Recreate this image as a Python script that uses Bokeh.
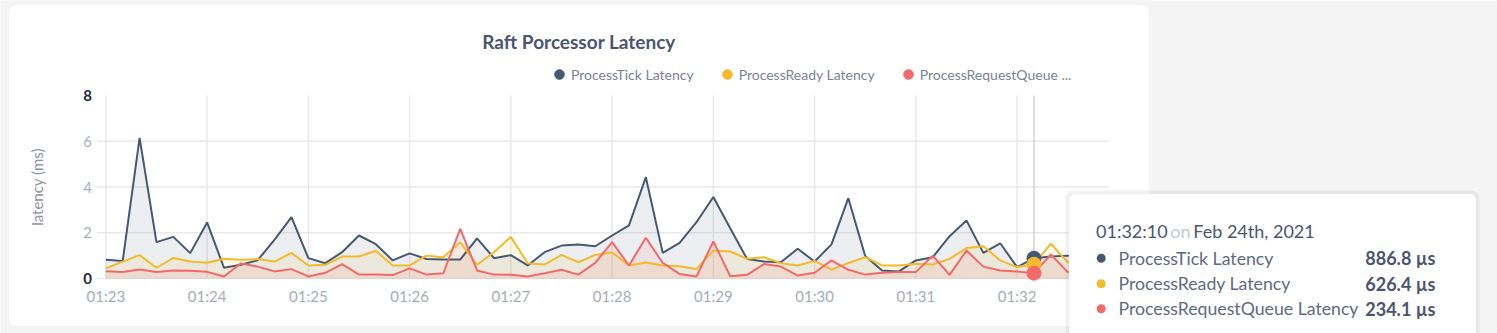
import pandas as pd
from bokeh.plotting import figure
from bokeh.models import (Range1d, FixedTicker, DatetimeAxis, LinearAxis, DatetimeTickFormatter,
                          Legend, LegendItem, Label, BoxAnnotation)
from bokeh.embed import file_html
from bokeh.resources import INLINE

# ---------------- data ----------------
chart_title = "Raft Porcessor Latency"
y_axis_title = "latency (ms)"
series_names = ["ProcessTick Latency", "ProcessReady Latency", "ProcessRequestQueue Latency"]
start_time = "2021-02-24 01:23:00"
sample_seconds = 10

process_tick = [0.82, 0.77, 6.15, 1.59, 1.82, 1.11, 2.45, 0.47, 0.60, 0.80,
                1.70, 2.68, 0.89, 0.67, 1.15, 1.88, 1.50, 0.79, 1.10, 0.85,
                0.83, 0.83, 1.75, 0.89, 1.02, 0.57, 1.15, 1.44, 1.49, 1.41,
                1.88, 2.32, 4.43, 1.12, 1.56, 2.46, 3.56, 2.20, 0.85, 0.74,
                0.71, 1.30, 0.74, 1.49, 3.51, 0.98, 0.35, 0.31, 0.79, 0.93,
                1.85, 2.54, 1.12, 1.54, 0.50, 0.8868, 0.96, 1.00, 1.00, 1.00]
process_ready = [0.45, 0.74, 1.02, 0.47, 0.90, 0.74, 0.69, 0.86, 0.82, 0.85,
                 0.74, 1.12, 0.57, 0.60, 0.96, 0.96, 1.21, 0.57, 0.57, 1.00,
                 0.93, 1.59, 0.60, 1.15, 1.82, 0.67, 0.61, 1.03, 0.71, 1.03,
                 1.15, 0.57, 0.70, 0.57, 0.54, 0.42, 1.22, 1.18, 0.86, 0.93,
                 0.67, 0.57, 0.77, 0.39, 0.68, 0.93, 0.57, 0.57, 0.64, 0.61,
                 0.86, 1.33, 1.41, 0.79, 0.50, 0.6264, 1.52, 0.71, 0.75, 0.80]
process_request_queue = [0.32, 0.28, 0.39, 0.28, 0.35, 0.34, 0.29, 0.09, 0.66, 0.52,
                         0.31, 0.41, 0.09, 0.25, 0.63, 0.17, 0.17, 0.15, 0.44, 0.17,
                         0.23, 2.17, 0.35, 0.17, 0.16, 0.09, 0.23, 0.38, 0.17, 0.68,
                         1.59, 0.57, 1.78, 0.68, 0.20, 0.09, 1.62, 0.10, 0.16, 0.63,
                         0.52, 0.13, 0.25, 0.79, 0.38, 0.17, 0.25, 0.28, 0.28, 1.00,
                         0.16, 1.22, 0.52, 0.35, 0.31, 0.2341, 1.05, 0.28, 0.30, 0.30]
y_ticks_light = [2, 4, 6]
y_ticks_bold = [0, 8]
y_grid_ticks = [0, 2, 4, 6]
y_max = 8
hover_index = 55

# ---------------- layout / style constants ----------------
W, H = 1497, 333
PLOT_L, PLOT_R, PLOT_T, PLOT_B = 96.4, 1108.9, 95.0, 278.0
WINDOW_MS = 600000
LEAD_MS = 5300
colors = ["#475872", "#f3bb2b", "#f16969"]
FONT = "Lato"

t0 = pd.Timestamp(start_time)
t0_ms = t0.value / 1e6
all_series = [process_tick, process_ready, process_request_queue]
n = len(process_tick)
times = [t0_ms + i * sample_seconds * 1000 for i in range(n)]

win_start = t0_ms - LEAD_MS
win_end = win_start + WINDOW_MS
ms_per_px = WINDOW_MS / (PLOT_R - PLOT_L)
u_per_px = y_max / (PLOT_B - PLOT_T)

p = figure(width=W, height=H, output_backend="svg", toolbar_location=None,
           x_axis_type=None, y_axis_type=None, title=None,
           x_range=Range1d(win_start - PLOT_L * ms_per_px, win_end + (W - PLOT_R) * ms_per_px),
           y_range=Range1d(-(H - PLOT_B) * u_per_px, y_max + PLOT_T * u_per_px),
           min_border=0, min_border_left=0, min_border_right=0,
           min_border_top=0, min_border_bottom=0)
p.outline_line_color = None
p.background_fill_color = "#f4f4f4"
p.border_fill_color = "#f4f4f4"

# card
card = BoxAnnotation(left=8, right=1149, bottom=H - 326, top=H - 4,
                     left_units="screen", right_units="screen",
                     top_units="screen", bottom_units="screen",
                     fill_color="white", fill_alpha=1.0, line_color="#e3e3e3",
                     line_width=1, border_radius=8, level="image")
p.add_layout(card)

# grid lines
minute_ticks = [t0_ms + i * 60000 for i in range(10)]
p.segment(x0=minute_ticks, x1=minute_ticks, y0=[0] * len(minute_ticks),
          y1=[y_max] * len(minute_ticks), line_color="#e9e9e9", line_width=1.5)
p.segment(x0=[win_start] * len(y_grid_ticks), x1=[win_end] * len(y_grid_ticks),
          y0=y_grid_ticks, y1=y_grid_ticks, line_color="#e9e9e9", line_width=1.5)

# areas
for vals, c in zip(all_series, colors):
    p.varea(x=times, y1=[0] * n, y2=vals, fill_color=c, fill_alpha=0.1)

# hover line
p.segment(x0=[times[hover_index]], x1=[times[hover_index]], y0=[0], y1=[y_max],
          line_color="#d2d2d2", line_width=1.5)

# lines
for vals, c in zip(all_series, colors):
    p.line(x=times, y=vals, line_color=c, line_width=2)

# hover dots
dots = []
for vals, c in zip(all_series, colors):
    r = p.scatter(x=[times[hover_index]], y=[vals[hover_index]], size=14,
                  fill_color=c, line_color=c)
    dots.append(r)

# axes
xaxis = DatetimeAxis(fixed_location=0, ticker=FixedTicker(ticks=minute_ticks),
                     formatter=DatetimeTickFormatter(seconds="%H:%M", minsec="%H:%M",
                                                     minutes="%H:%M", hourmin="%H:%M",
                                                     hours="%H:%M"))
xaxis.axis_line_color = None
xaxis.major_tick_line_color = None
xaxis.minor_tick_line_color = None
xaxis.major_tick_out = 0
xaxis.major_label_standoff = 8
xaxis.major_label_text_font = FONT
xaxis.major_label_text_font_size = "15px"
xaxis.major_label_text_color = "#a6acb9"
p.add_layout(xaxis, "below")

yaxis = LinearAxis(fixed_location=win_start, ticker=FixedTicker(ticks=y_ticks_light),
                   bounds=(0, y_max), axis_label=y_axis_title)
yaxis.axis_line_color = None
yaxis.major_tick_line_color = None
yaxis.minor_tick_line_color = None
yaxis.major_tick_out = 0
yaxis.major_label_standoff = 5
yaxis.major_label_text_font = FONT
yaxis.major_label_text_font_size = "15px"
yaxis.major_label_text_color = "#a9afbc"
yaxis.axis_label_text_font = FONT
yaxis.axis_label_text_font_size = "15px"
yaxis.axis_label_text_font_style = "normal"
yaxis.axis_label_text_color = "#8b92a2"
yaxis.axis_label_standoff = 34
p.add_layout(yaxis, "left")

yaxis_b = LinearAxis(fixed_location=win_start, ticker=FixedTicker(ticks=y_ticks_bold),
                     bounds=(0, y_max))
yaxis_b.axis_line_color = None
yaxis_b.major_tick_line_color = None
yaxis_b.minor_tick_line_color = None
yaxis_b.major_tick_out = 0
yaxis_b.major_label_standoff = 5
yaxis_b.major_label_text_font = FONT
yaxis_b.major_label_text_font_size = "15px"
yaxis_b.major_label_text_font_style = "bold"
yaxis_b.major_label_text_color = "#242b3d"
p.add_layout(yaxis_b, "left")

# title
p.add_layout(Label(x=578.5, y=H - 41, x_units="screen", y_units="screen",
                   text=chart_title, text_align="center", text_baseline="middle",
                   text_font=FONT, text_font_size="19px", text_font_style="bold",
                   text_color="#4a5573"))

# legend
legend_labels = [series_names[0], series_names[1], series_names[2][:19] + " ..."]
legend = Legend(items=[LegendItem(label=lab, renderers=[r]) for lab, r in zip(legend_labels, dots)],
                orientation="horizontal", location=(547, H - 87), padding=0, margin=0,
                spacing=21, glyph_width=24, glyph_height=26, label_standoff=0,
                label_height=26, label_text_font=FONT, label_text_font_size="14px",
                label_text_color="#7c8291", background_fill_alpha=0, border_line_alpha=0)
p.add_layout(legend, "center")

# tooltip
shadow = BoxAnnotation(left=1065, right=1479, bottom=-10, top=H - 190,
                       left_units="screen", right_units="screen",
                       top_units="screen", bottom_units="screen",
                       fill_color="black", fill_alpha=0.05, line_alpha=0,
                       border_radius=8, level="overlay")
p.add_layout(shadow)
tip = BoxAnnotation(left=1068.5, right=1475.5, bottom=-10, top=H - 193.5,
                    left_units="screen", right_units="screen",
                    top_units="screen", bottom_units="screen",
                    fill_color="white", fill_alpha=1.0, line_color="#e2e2e2",
                    line_width=1, border_radius=6, level="overlay")
p.add_layout(tip)

ht = pd.Timestamp(times[hover_index] * 1e6)
day = ht.day
suffix = "th" if 11 <= day <= 13 else {1: "st", 2: "nd", 3: "rd"}.get(day % 10, "th")
time_text = ht.strftime("%H:%M:%S")
date_text = ht.strftime("%b ") + f"{day}{suffix}, " + ht.strftime("%Y")

hdr_y = H - 230.7
for txt, x, col in [(time_text, 1095.5, "#4a5573"), ("on", 1169.8, "#c4c8cf"),
                    (date_text, 1192.8, "#4a5573")]:
    p.add_layout(Label(x=x, y=hdr_y, x_units="screen", y_units="screen", text=txt,
                       text_align="left", text_baseline="middle", text_font=FONT,
                       text_font_size="18px", text_color=col, level="overlay"))

row_centers = [257.7, 283.3, 308.3]
for name, vals, c, cy in zip(series_names, all_series, colors, row_centers):
    yy = H - cy
    p.add_layout(BoxAnnotation(left=1100.7 - 4.5, right=1100.7 + 4.5, bottom=yy - 4.5, top=yy + 4.5,
                               left_units="screen", right_units="screen",
                               top_units="screen", bottom_units="screen",
                               fill_color=c, fill_alpha=1.0, line_alpha=0,
                               border_radius=5, level="overlay"))
    p.add_layout(Label(x=1118, y=yy, x_units="screen", y_units="screen", text=name,
                       text_align="left", text_baseline="middle", text_font=FONT,
                       text_font_size="17.7px", text_color="#5e6a84", level="overlay"))
    p.add_layout(Label(x=1435, y=yy, x_units="screen", y_units="screen",
                       text=f"{vals[hover_index] * 1000:.1f} µs",
                       text_align="right", text_baseline="middle", text_font=FONT,
                       text_font_size="18px", text_font_style="bold",
                       text_color="#4a5573", level="overlay"))

open("out.html", "w").write(file_html(p, INLINE))
